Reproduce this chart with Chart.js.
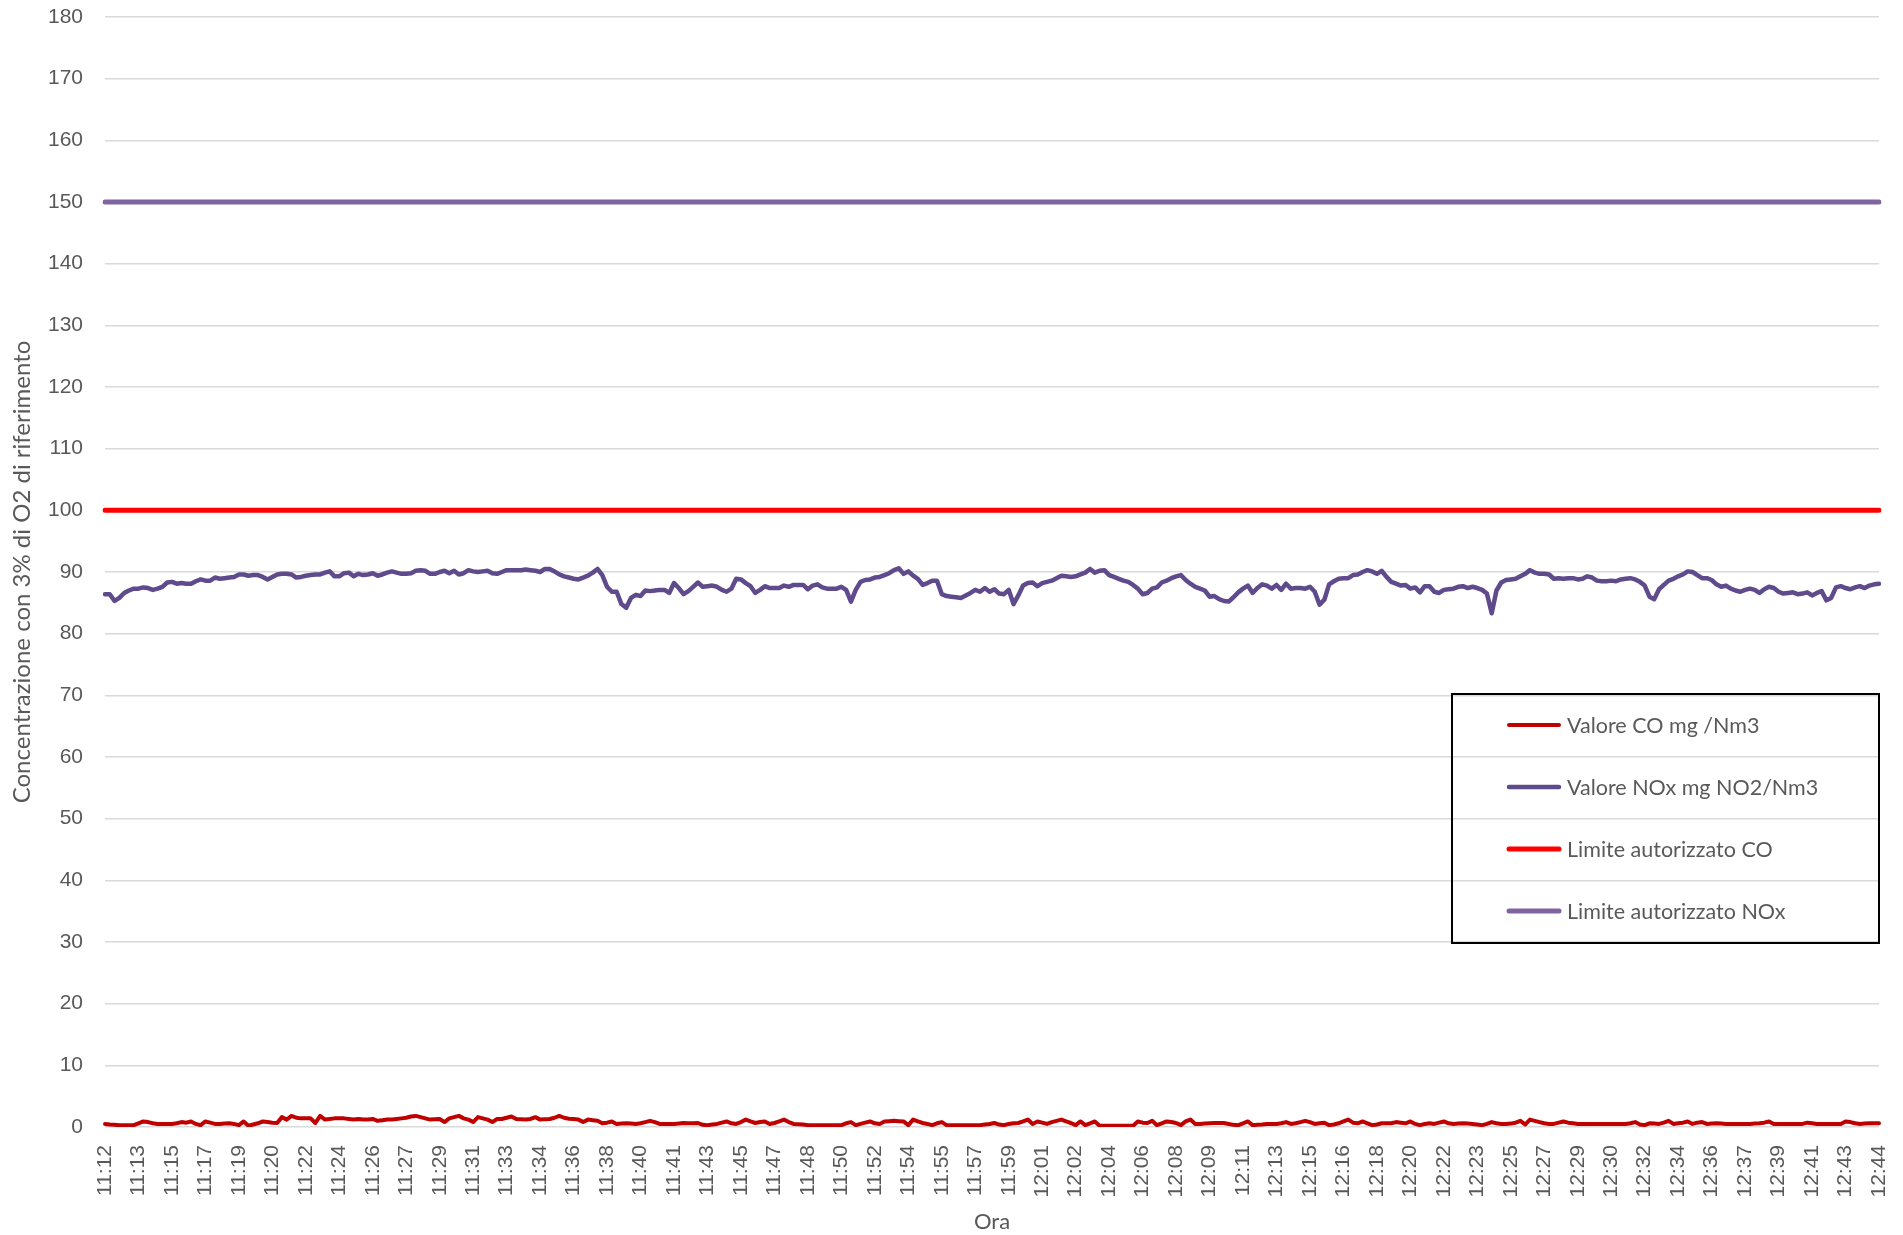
<!DOCTYPE html>
<html>
<head>
<meta charset="utf-8">
<title>Concentrazioni CO e NOx</title>
<script src="https://cdn.jsdelivr.net/npm/chart.js@4.4.0/dist/chart.umd.min.js"></script>
<style>
  html, body { margin: 0; padding: 0; background: #fff; }
  #wrap { width: 1903px; height: 1235px; }
</style>
</head>
<body>
<div id="wrap"><canvas id="chart" width="1903" height="1235"></canvas></div>
<script>
// One reading every 15 s, a tick label every 7 readings (as in the original sheet)
const LABEL_STEP = 7;

const tickLabels = [
    '11:12', '11:13', '11:15', '11:17', '11:19', '11:20', '11:22', '11:24', '11:26', '11:27',
    '11:29', '11:31', '11:33', '11:34', '11:36', '11:38', '11:40', '11:41', '11:43', '11:45',
    '11:47', '11:48', '11:50', '11:52', '11:54', '11:55', '11:57', '11:59', '12:01', '12:02',
    '12:04', '12:06', '12:08', '12:09', '12:11', '12:13', '12:15', '12:16', '12:18', '12:20',
    '12:22', '12:23', '12:25', '12:27', '12:29', '12:30', '12:32', '12:34', '12:36', '12:37',
    '12:39', '12:41', '12:43', '12:44'
];

// Valore NOx mg NO2/Nm3 (one row = 7 readings)
const noxValues = [
    86.4, 86.4, 85.3, 85.8, 86.6, 87.0, 87.3,
    87.3, 87.5, 87.4, 87.1, 87.3, 87.6, 88.3,
    88.4, 88.1, 88.2, 88.1, 88.1, 88.5, 88.8,
    88.6, 88.6, 89.1, 88.9, 89.0, 89.1, 89.2,
    89.6, 89.6, 89.4, 89.5, 89.5, 89.2, 88.8,
    89.2, 89.6, 89.7, 89.7, 89.6, 89.1, 89.2,
    89.4, 89.5, 89.6, 89.6, 89.9, 90.1, 89.3,
    89.3, 89.8, 89.9, 89.3, 89.7, 89.5, 89.6,
    89.8, 89.4, 89.6, 89.9, 90.1, 89.9, 89.7,
    89.7, 89.8, 90.2, 90.3, 90.2, 89.7, 89.7,
    90.0, 90.2, 89.8, 90.2, 89.6, 89.8, 90.3,
    90.1, 90.0, 90.1, 90.2, 89.8, 89.7, 90.0,
    90.3, 90.3, 90.3, 90.3, 90.4, 90.3, 90.2,
    90.0, 90.5, 90.5, 90.1, 89.6, 89.3, 89.1,
    88.9, 88.8, 89.1, 89.4, 89.9, 90.5, 89.5,
    87.6, 86.8, 86.8, 84.8, 84.2, 85.8, 86.3,
    86.1, 87.0, 86.9, 87.0, 87.1, 87.1, 86.6,
    88.2, 87.4, 86.4, 86.9, 87.6, 88.3, 87.6,
    87.7, 87.8, 87.6, 87.1, 86.8, 87.3, 88.9,
    88.8, 88.2, 87.7, 86.6, 87.1, 87.7, 87.4,
    87.4, 87.4, 87.8, 87.6, 87.9, 87.9, 87.9,
    87.2, 87.8, 88.0, 87.5, 87.3, 87.3, 87.3,
    87.6, 87.1, 85.2, 87.1, 88.4, 88.7, 88.8,
    89.1, 89.2, 89.5, 89.8, 90.3, 90.6, 89.7,
    90.1, 89.4, 88.9, 87.9, 88.2, 88.6, 88.6,
    86.4, 86.1, 86.0, 85.9, 85.8, 86.2, 86.6,
    87.1, 86.8, 87.4, 86.8, 87.2, 86.5, 86.4,
    87.1, 84.8, 86.2, 87.8, 88.2, 88.3, 87.7,
    88.2, 88.4, 88.6, 89.0, 89.4, 89.3, 89.2,
    89.3, 89.6, 89.9, 90.5, 89.9, 90.2, 90.3,
    89.5, 89.2, 88.9, 88.6, 88.4, 87.9, 87.3,
    86.4, 86.6, 87.3, 87.5, 88.3, 88.6, 89.0,
    89.3, 89.5, 88.7, 88.1, 87.6, 87.3, 87.0,
    86.0, 86.1, 85.6, 85.3, 85.2, 85.9, 86.7,
    87.3, 87.8, 86.6, 87.4, 88.0, 87.8, 87.3,
    87.9, 87.1, 88.1, 87.3, 87.4, 87.4, 87.3,
    87.6, 86.8, 84.7, 85.5, 88.0, 88.5, 88.9,
    89.0, 89.0, 89.5, 89.6, 90.0, 90.3, 90.1,
    89.7, 90.2, 89.2, 88.4, 88.1, 87.8, 87.9,
    87.3, 87.5, 86.7, 87.7, 87.7, 86.8, 86.6,
    87.1, 87.2, 87.3, 87.6, 87.7, 87.4, 87.6,
    87.4, 87.1, 86.5, 83.3, 87.0, 88.3, 88.7,
    88.8, 88.9, 89.3, 89.7, 90.3, 89.9, 89.7,
    89.7, 89.6, 88.9, 89.0, 88.9, 89.0, 89.0,
    88.8, 88.9, 89.3, 89.1, 88.6, 88.5, 88.5,
    88.6, 88.5, 88.8, 88.9, 89.0, 88.8, 88.4,
    87.8, 86.0, 85.6, 87.2, 87.9, 88.6, 88.9,
    89.3, 89.6, 90.1, 90.0, 89.5, 89.0, 89.0,
    88.7, 88.0, 87.6, 87.8, 87.3, 87.0, 86.8,
    87.1, 87.3, 87.1, 86.6, 87.2, 87.6, 87.4,
    86.8, 86.5, 86.6, 86.7, 86.4, 86.5, 86.7,
    86.2, 86.6, 86.9, 85.4, 85.8, 87.5, 87.7,
    87.4, 87.2, 87.5, 87.7, 87.4, 87.8, 88.0,
    88.1
];

// Valore CO mg /Nm3
const coValues = [
    0.5, 0.4, 0.35, 0.3, 0.3, 0.3, 0.3,
    0.6, 0.9, 0.8, 0.6, 0.5, 0.5, 0.5,
    0.5, 0.6, 0.8, 0.7, 0.9, 0.5, 0.3,
    0.9, 0.7, 0.5, 0.5, 0.55, 0.6, 0.5,
    0.3, 0.9, 0.2, 0.4, 0.6, 0.9, 0.8,
    0.7, 0.65, 1.6, 1.2, 1.8, 1.5, 1.4,
    1.4, 1.4, 0.65, 1.8, 1.2, 1.3, 1.4,
    1.4, 1.4, 1.3, 1.2, 1.3, 1.2, 1.2,
    1.3, 1.0, 1.1, 1.2, 1.2, 1.3, 1.4,
    1.5, 1.7, 1.8, 1.6, 1.4, 1.2, 1.25,
    1.3, 0.8, 1.4, 1.6, 1.8, 1.4, 1.2,
    0.8, 1.6, 1.4, 1.2, 0.8, 1.3, 1.3,
    1.5, 1.7, 1.3, 1.25, 1.2, 1.3, 1.6,
    1.2, 1.25, 1.3, 1.5, 1.8, 1.5, 1.35,
    1.3, 1.2, 0.8, 1.2, 1.1, 1.0, 0.6,
    0.7, 0.9, 0.5, 0.55, 0.6, 0.55, 0.5,
    0.6, 0.8, 1.0, 0.8, 0.5, 0.5, 0.5,
    0.5, 0.55, 0.65, 0.6, 0.6, 0.65, 0.35,
    0.3, 0.4, 0.5, 0.7, 0.9, 0.6, 0.5,
    0.8, 1.2, 0.9, 0.65, 0.8, 0.9, 0.5,
    0.65, 0.9, 1.2, 0.8, 0.5, 0.45, 0.4,
    0.3, 0.3, 0.3, 0.3, 0.3, 0.3, 0.3,
    0.3, 0.6, 0.8, 0.3, 0.5, 0.7, 0.9,
    0.6, 0.5, 0.9, 0.95, 1.0, 0.95, 0.9,
    0.3, 1.2, 0.9, 0.65, 0.5, 0.3, 0.6,
    0.8, 0.3, 0.3, 0.3, 0.3, 0.3, 0.3,
    0.3, 0.3, 0.4, 0.5, 0.65, 0.4, 0.3,
    0.5, 0.6, 0.65, 0.9, 1.2, 0.5, 0.9,
    0.7, 0.5, 0.8, 1.0, 1.2, 0.9, 0.65,
    0.3, 0.9, 0.3, 0.6, 0.9, 0.2, 0.2,
    0.2, 0.2, 0.2, 0.2, 0.2, 0.2, 0.9,
    0.7, 0.65, 1.0, 0.3, 0.6, 0.9, 0.8,
    0.65, 0.3, 0.9, 1.2, 0.5, 0.5, 0.55,
    0.6, 0.65, 0.65, 0.65, 0.5, 0.35, 0.3,
    0.6, 0.9, 0.3, 0.35, 0.4, 0.5, 0.5,
    0.5, 0.6, 0.8, 0.5, 0.6, 0.8, 1.0,
    0.8, 0.5, 0.6, 0.7, 0.3, 0.4, 0.6,
    0.9, 1.2, 0.7, 0.6, 0.9, 0.6, 0.3,
    0.4, 0.6, 0.6, 0.6, 0.8, 0.7, 0.6,
    0.9, 0.5, 0.3, 0.5, 0.6, 0.5, 0.7,
    0.9, 0.6, 0.5, 0.55, 0.6, 0.55, 0.5,
    0.4, 0.3, 0.5, 0.8, 0.6, 0.5, 0.5,
    0.55, 0.7, 1.0, 0.4, 1.2, 1.0, 0.8,
    0.6, 0.5, 0.5, 0.7, 0.9, 0.7, 0.6,
    0.5, 0.5, 0.5, 0.5, 0.5, 0.5, 0.5,
    0.5, 0.5, 0.5, 0.5, 0.6, 0.8, 0.4,
    0.3, 0.6, 0.55, 0.5, 0.7, 1.0, 0.5,
    0.6, 0.7, 0.9, 0.5, 0.7, 0.8, 0.5,
    0.55, 0.6, 0.55, 0.5, 0.5, 0.5, 0.5,
    0.5, 0.5, 0.55, 0.6, 0.7, 0.9, 0.5,
    0.5, 0.5, 0.5, 0.5, 0.5, 0.5, 0.7,
    0.6, 0.5, 0.5, 0.5, 0.5, 0.5, 0.5,
    0.9, 0.8, 0.6, 0.5, 0.55, 0.6, 0.6,
    0.6
];

// Authorised limits
const coLimit = 100;
const noxLimit = 150;

// category per reading, only every 7th one gets a time label
const labels = noxValues.map((v, i) => i % LABEL_STEP === 0 ? tickLabels[i / LABEL_STEP] : '');

const TEXT_COLOR = '#595959';
const GRID_COLOR = '#D9D9D9';

// Legend drawn as a framed box inside the plot, like the Excel original
const boxLegend = {
    id: 'boxLegend',
    afterDraw(chart) {
        const ctx = chart.ctx;
        const x0 = 1452, y0 = 694, w = 427, h = 249;
        ctx.save();
        ctx.strokeStyle = '#000';
        ctx.lineWidth = 2;
        ctx.strokeRect(x0, y0, w, h);
        ctx.font = '21.5px Lato';
        ctx.textBaseline = 'middle';
        chart.data.datasets.forEach((ds, i) => {
            const y = y0 + 31 + i * 62;
            ctx.strokeStyle = ds.borderColor;
            ctx.lineWidth = ds.borderWidth;
            ctx.lineCap = 'round';
            ctx.beginPath();
            ctx.moveTo(x0 + 57, y);
            ctx.lineTo(x0 + 107, y);
            ctx.stroke();
            ctx.fillStyle = TEXT_COLOR;
            ctx.fillText(ds.label, x0 + 115, y + 1);
        });
        ctx.restore();
    }
};

const lineStyle = { pointRadius: 0, pointHoverRadius: 0, fill: false, tension: 0, borderJoinStyle: 'round', borderCapStyle: 'round' };

new Chart(document.getElementById('chart'), {
    type: 'line',
    data: {
        labels,
        datasets: [
            { ...lineStyle, label: 'Valore CO mg /Nm3', data: coValues, borderColor: '#C00000', borderWidth: 4 },
            { ...lineStyle, label: 'Valore NOx mg NO2/Nm3', data: noxValues, borderColor: '#5F4B8B', borderWidth: 4.5 },
            { ...lineStyle, label: 'Limite autorizzato CO', data: labels.map(() => coLimit), borderColor: '#FF0000', borderWidth: 5 },
            { ...lineStyle, label: 'Limite autorizzato NOx', data: labels.map(() => noxLimit), borderColor: '#8064A2', borderWidth: 5 }
        ]
    },
    options: {
        responsive: false,
        animation: false,
        layout: { padding: { top: 17, right: 24, left: 0, bottom: 0 } },
        plugins: {
            legend: { display: false },
            tooltip: { enabled: false }
        },
        scales: {
            x: {
                offset: false,
                grid: { display: false },
                border: { display: false },
                ticks: {
                    autoSkip: false,
                    minRotation: 90,
                    maxRotation: 90,
                    padding: 10,
                    color: TEXT_COLOR,
                    font: { family: 'Liberation Sans', size: 21 },
                    callback: (v, i) => labels[i] || null
                },
                title: {
                    display: true,
                    text: 'Ora',
                    color: TEXT_COLOR,
                    font: { family: 'Lato', size: 22 },
                    padding: { top: 0, bottom: 0 }
                },
                afterFit: (scale) => {
                    scale.height = 108;
                    scale.paddingLeft = 0;
                    scale.paddingRight = 0;
                }
            },
            y: {
                min: 0,
                max: 180,
                grid: { color: GRID_COLOR, lineWidth: 1.5, drawTicks: false },
                border: { display: false },
                ticks: {
                    stepSize: 10,
                    padding: 22,
                    color: TEXT_COLOR,
                    font: { family: 'Liberation Sans', size: 21 }
                },
                title: {
                    display: true,
                    text: 'Concentrazione con 3% di O2 di riferimento',
                    color: TEXT_COLOR,
                    font: { family: 'Lato', size: 24 },
                    padding: { top: 8, bottom: 0 }
                },
                afterFit: (scale) => {
                    scale.width = 105;
                    scale.paddingTop = 0;
                    scale.paddingBottom = 0;
                }
            }
        }
    },
    plugins: [boxLegend]
});
</script>
</body>
</html>
